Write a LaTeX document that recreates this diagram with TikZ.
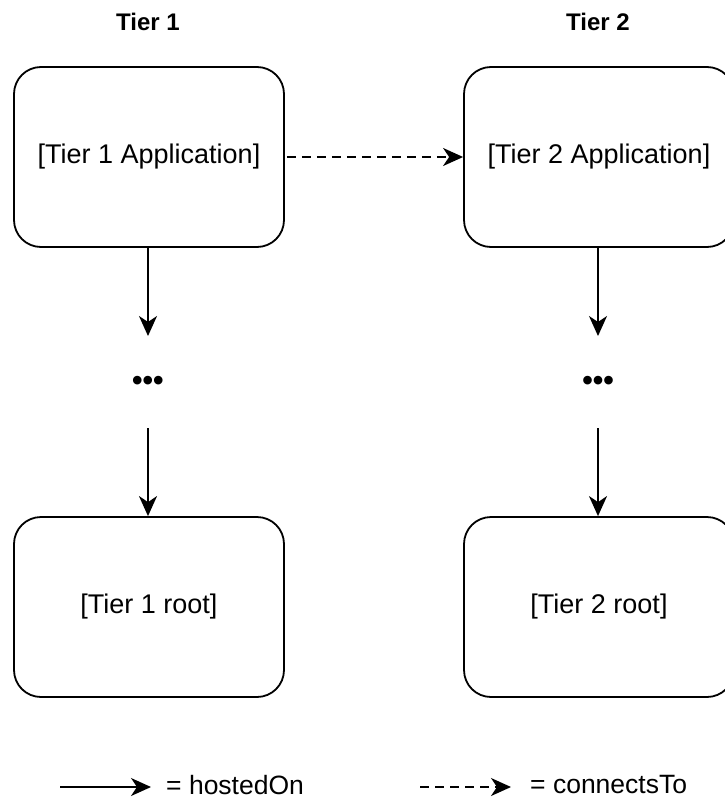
\documentclass[tikz,border=0pt]{standalone}
\usepackage{fontspec}
\setmainfont{Liberation Sans}
\usetikzlibrary{arrows.meta}
\begin{document}
\begin{tikzpicture}[x=1pt,y=-1pt,
  box/.style={draw=black, line width=1.8pt, rounded corners=27pt, minimum width=270pt, minimum height=180pt, inner sep=0pt, font=\fontsize{27}{32}\selectfont},
  title/.style={font=\fontsize{24}{28}\selectfont\bfseries},
  lbl/.style={font=\fontsize{26.5}{30}\selectfont, inner sep=0pt},
  dots/.style={font=\fontsize{30}{34}\selectfont\bfseries, inner sep=0pt},
  host/.style={line width=1.8pt, -{Stealth[length=20pt,width=18pt,inset=6pt]}},
  conn/.style={line width=1.8pt, dash pattern=on 9pt off 6pt, -{Stealth[length=20pt,width=18pt,inset=6pt]}}]
\useasboundingbox (0,0) rectangle (725,800);
\node[title] (t1) at (148,22) {Tier 1};
\node[title] (t2) at (598,22) {Tier 2};
\node[box] (a1) at (149,157) {[Tier 1 Application]};
\node[box] (a2) at (599,157) {[Tier 2 Application]};
\node[dots] (d1) at (148,383) {•••};
\node[dots] (d2) at (598,383) {•••};
\node[box] (r1) at (149,607) {[Tier 1 root]};
\node[box] (r2) at (599,607) {[Tier 2 root]};
\coordinate (d1a) at (148,336);
\coordinate (d1b) at (148,428);
\coordinate (d2a) at (598,336);
\coordinate (d2b) at (598,428);
\draw[host] (a1.south -| d1a) -- (d1a);
\draw[host] (d1b) -- (r1.north -| d1b);
\draw[host] (a2.south -| d2a) -- (d2a);
\draw[host] (d2b) -- (r2.north -| d2b);
\draw[conn] ([xshift=2pt]a1.east) -- (a2.west);
\coordinate (h0) at (60,787);
\coordinate (h1) at (151,787);
\coordinate (c0) at (420,787);
\coordinate (c1) at (511,787);
\draw[host] (h0) -- (h1);
\draw[conn] (c0) -- (c1);
\node[lbl, anchor=west] (hl) at (166,785) {= hostedOn};
\node[lbl, anchor=west] (cl) at (530,785) {= connectsTo};
\end{tikzpicture}
\end{document}
